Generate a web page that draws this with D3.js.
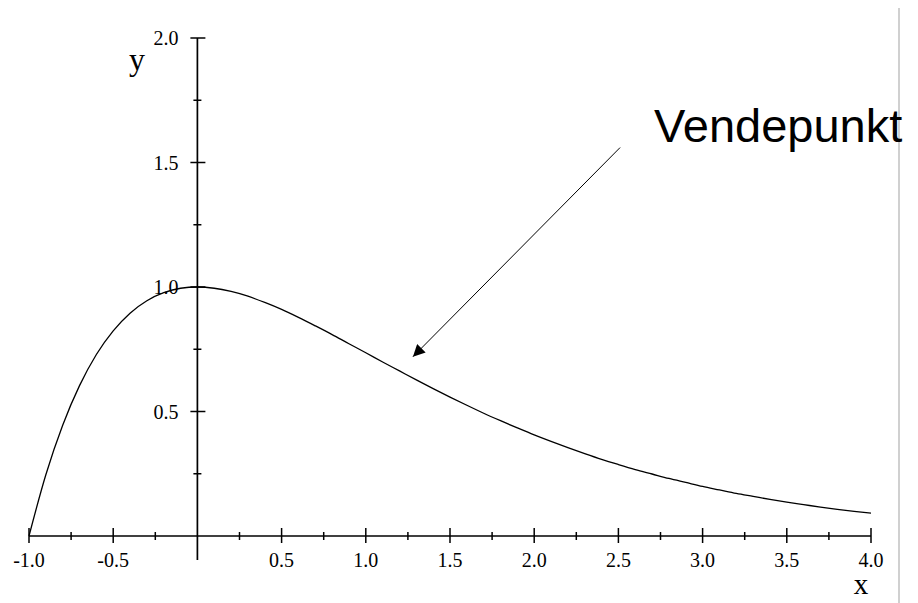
<!DOCTYPE html>
<html>
<head>
<meta charset="utf-8">
<script src="https://cdn.jsdelivr.net/npm/d3@7"></script>
<style>
  html, body { margin: 0; padding: 0; background: #fff; }
  svg { display: block; }
</style>
</head>
<body>
<svg id="chart" width="918" height="603"></svg>
<script>
// Curve values
const xs = [-1.0,-0.9,-0.8,-0.7,-0.6,-0.5,-0.4,-0.3,-0.2,-0.1,0.0,0.1,0.2,0.3,0.4,0.5,0.6,0.7,0.8,0.9,1.0,1.1,1.2,1.3,1.4,1.5,1.6,1.7,1.8,1.9,2.0,2.1,2.2,2.3,2.4,2.5,2.6,2.7,2.8,2.9,3.0,3.1,3.2,3.3,3.4,3.5,3.6,3.7,3.8,3.9,4.0];
const ys = [0.000,0.246,0.445,0.604,0.729,0.824,0.895,0.945,0.977,0.995,1.000,0.995,0.982,0.963,0.938,0.910,0.878,0.844,0.809,0.772,0.736,0.699,0.663,0.627,0.592,0.558,0.525,0.493,0.463,0.434,0.406,0.380,0.355,0.331,0.308,0.287,0.267,0.249,0.231,0.215,0.199,0.185,0.171,0.159,0.147,0.136,0.126,0.116,0.107,0.099,0.092];

const xMajorTicks = [-1.0,-0.5,0.5,1.0,1.5,2.0,2.5,3.0,3.5,4.0];
const xMinorTicks = [-0.75,-0.25,0.25,0.75,1.25,1.75,2.25,2.75,3.25,3.75];
const xTickLabels = ["-1.0","-0.5","0.5","1.0","1.5","2.0","2.5","3.0","3.5","4.0"];
const yMajorTicks = [0.5,1.0,1.5,2.0];
const yMinorTicks = [0.25,0.75,1.25,1.75];
const yTickLabels = ["0.5","1.0","1.5","2.0"];

const annotationText = "Vendepunkt";
const arrowFrom = [2.51, 1.56];  // data coords of arrow tail
const arrowTo = [1.28, 0.72];    // data coords of arrow tip

const svg = d3.select("#chart");
const x = d3.scaleLinear().domain([-1, 4]).range([29, 871]);
const y = d3.scaleLinear().domain([0, 2]).range([536, 38]);

const serif = "'Liberation Serif', 'Times New Roman', serif";

// right gray border line
svg.append("line")
  .attr("x1", 899).attr("x2", 899).attr("y1", 8).attr("y2", 603)
  .attr("stroke", "#d0d0d0").attr("stroke-width", 2);

// X axis
const gx = svg.append("g").attr("transform", `translate(0,${y(0)})`);
gx.append("line").attr("x1", x(-1)).attr("x2", x(4)).attr("stroke", "#000").attr("stroke-width", 1.7);
gx.selectAll("line.maj").data(xMajorTicks).join("line").attr("class","maj")
  .attr("x1", d => x(d)).attr("x2", d => x(d)).attr("y1", -8).attr("y2", 7)
  .attr("stroke", "#000").attr("stroke-width", 1.5);
gx.selectAll("line.min").data(xMinorTicks).join("line").attr("class","min")
  .attr("x1", d => x(d)).attr("x2", d => x(d)).attr("y1", -4).attr("y2", 4)
  .attr("stroke", "#000").attr("stroke-width", 1.5);
gx.selectAll("text").data(xMajorTicks).join("text")
  .attr("x", d => x(d)).attr("y", 31)
  .attr("text-anchor", "middle")
  .attr("font-family", serif).attr("font-size", 20)
  .text((d, i) => xTickLabels[i]);

// Y axis
const gy = svg.append("g").attr("transform", `translate(${x(0)},0)`);
gy.append("line").attr("y1", y(2)).attr("y2", y(0) + 24).attr("stroke", "#000").attr("stroke-width", 1.7);
gy.selectAll("line.maj").data(yMajorTicks).join("line").attr("class","maj")
  .attr("y1", d => y(d)).attr("y2", d => y(d)).attr("x1", -7).attr("x2", 8)
  .attr("stroke", "#000").attr("stroke-width", 1.5);
gy.selectAll("line.min").data(yMinorTicks).join("line").attr("class","min")
  .attr("y1", d => y(d)).attr("y2", d => y(d)).attr("x1", -4).attr("x2", 4)
  .attr("stroke", "#000").attr("stroke-width", 1.5);
gy.selectAll("text").data(yMajorTicks).join("text")
  .attr("x", -19).attr("y", d => y(d) + 7)
  .attr("text-anchor", "end")
  .attr("font-family", serif).attr("font-size", 20)
  .text((d, i) => yTickLabels[i]);

// axis titles
svg.append("text").attr("x", 137).attr("y", 70).attr("text-anchor", "middle")
  .attr("font-family", serif).attr("font-size", 32).text("y");
svg.append("text").attr("x", 861).attr("y", 594).attr("text-anchor", "middle")
  .attr("font-family", serif).attr("font-size", 29).text("x");

// curve
const line = d3.line().x((d, i) => x(xs[i])).y(d => y(d)).curve(d3.curveMonotoneX);
svg.append("path").datum(ys).attr("d", line)
  .attr("fill", "none").attr("stroke", "#000").attr("stroke-width", 1.3);

// arrow
svg.append("defs").append("marker")
  .attr("id", "ah").attr("viewBox", "0 0 10 10").attr("refX", 10).attr("refY", 5)
  .attr("markerWidth", 15).attr("markerHeight", 12).attr("markerUnits", "userSpaceOnUse")
  .attr("orient", "auto")
  .append("path").attr("d", "M0,0 L10,5 L0,10 Z").attr("fill", "#000");
svg.append("line")
  .attr("x1", x(arrowFrom[0])).attr("y1", y(arrowFrom[1]))
  .attr("x2", x(arrowTo[0])).attr("y2", y(arrowTo[1]))
  .attr("stroke", "#000").attr("stroke-width", 1)
  .attr("marker-end", "url(#ah)");

// annotation text
svg.append("text").attr("x", 654).attr("y", 142)
  .attr("font-family", "'Liberation Sans', Arial, sans-serif").attr("font-size", 47)
  .text(annotationText);
</script>
</body>
</html>
